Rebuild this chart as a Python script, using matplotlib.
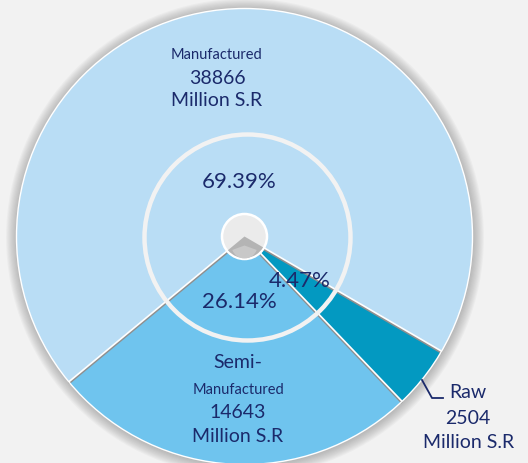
import numpy as np
import matplotlib
matplotlib.use("Agg")
import matplotlib.pyplot as plt
from matplotlib.patches import Circle, Wedge

# ---- data ----
categories = ["Manufactured", "Semi-Manufactured", "Raw"]
values = [38866, 14643, 2504]          # Million S.R
percent_labels = ["69.39%", "26.14%", "4.47%"]
colors = ["#b9ddf5", "#6fc4ee", "#0399c1"]

W, H = 528, 463
fig = plt.figure(figsize=(W / 100, H / 100), dpi=100, facecolor="#f2f2f2")
ax = fig.add_axes([0, 0, 1, 1])
ax.set_facecolor("#f2f2f2")

FONT = ["Lato", "DejaVu Sans"]
NAVY = "#1b2a6b"

cx, cy, R = 244.5, 463 - 236.5, 228
start = 329.8

# soft glow shadow around the pie
for k in range(10):
    ax.add_patch(Circle((cx + 0.5, cy - 1), R + 1 + k * 1.1, color="#7a7a7a",
                        alpha=0.055, zorder=0, lw=0))

wedges, _ = ax.pie(values, colors=colors, center=(cx, cy), radius=R,
                   startangle=start, counterclock=True,
                   wedgeprops=dict(edgecolor="none", linewidth=0))
for w in wedges:
    w.set_zorder(1)

# boundary lines: grey shadow + white highlight
for w in wedges:
    th = np.deg2rad(w.theta1)
    x2, y2 = cx + R * np.cos(th), cy + R * np.sin(th)
    ax.plot([cx, x2], [cy - 1.5, y2 - 1.5], color="#8f8f8f", lw=1.6, zorder=2,
            solid_capstyle="butt")
    ax.plot([cx, x2], [cy, y2], color="white", lw=1.2, zorder=3,
            solid_capstyle="butt")
ax.add_patch(Circle((cx, cy), R, fill=False, edgecolor="white", lw=1.0, zorder=3))

# inner ring
ax.add_patch(Circle((cx + 3, cy - 1), 103, fill=False, edgecolor="#f2f2f2", lw=3.2, zorder=4))

# centre knob
ax.add_patch(Circle((cx, cy), 22.5, facecolor="#ebebeb", edgecolor="white", lw=1.8, zorder=5))
ax.add_patch(Wedge((cx, cy), 21.5, wedges[0].theta2, wedges[2].theta2,
                   facecolor="#b4b4b4", edgecolor="none", zorder=6))
ax.add_patch(Wedge((cx, cy - 9), 13, 200, 340, facecolor="#c8c8c8", edgecolor="none", zorder=6))

# percentage labels
ax.text(239, 463 - 182, percent_labels[0], ha="center", va="center", fontsize=16,
        color=NAVY, family=FONT, zorder=7)
ax.text(239, 463 - 302, percent_labels[1], ha="center", va="center", fontsize=16,
        color=NAVY, family=FONT, zorder=7)
ax.text(300, 463 - 281, percent_labels[2], ha="center", va="center", fontsize=16,
        color=NAVY, family=FONT, zorder=7)

# category labels
def txt(x, y, s, fs):
    ax.text(x, 463 - y, s, ha="center", va="center", fontsize=fs, color=NAVY,
            family=FONT, zorder=7)

txt(217, 55, "Manufactured", 10.5)
txt(217, 78, f"{values[0]}", 14)
txt(217, 101, "Million S.R", 14)

txt(238, 362, "Semi-", 14)
txt(238, 390, "Manufactured", 10.5)
txt(238, 413, f"{values[1]}", 14)
txt(238, 437, "Million S.R", 14)

ax.plot([422, 432, 443], [463 - 380, 463 - 398, 463 - 398], color=NAVY, lw=1.3, zorder=7)
txt(468, 392, "Raw", 14)
txt(468, 418, f"{values[2]}", 14)
txt(469, 442, "Million S.R", 14)

ax.set_xlim(0, W)
ax.set_ylim(0, H)
ax.set_aspect("auto")
ax.axis("off")
fig.savefig("out.png", dpi=100, facecolor=fig.get_facecolor())
